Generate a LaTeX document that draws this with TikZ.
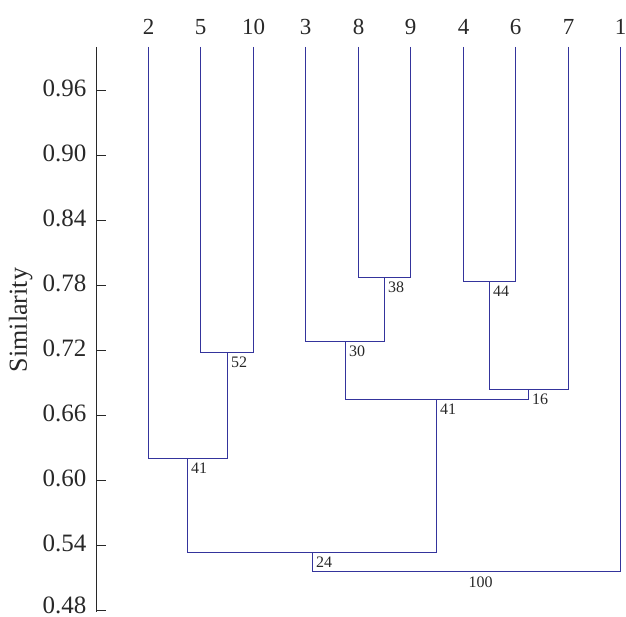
\documentclass[tikz,border=0pt]{standalone}
\usepackage{fontspec}
\setmainfont{Liberation Serif}
\definecolor{dend}{RGB}{52,52,156}
\definecolor{axisc}{RGB}{40,40,40}
\begin{document}
\begin{tikzpicture}[x=1pt,y=-1pt,
  link/.style={draw=dend,line width=1.6pt},
  axisline/.style={draw=axisc,line width=1.6pt},
  leaflab/.style={anchor=base,inner sep=0pt,font=\fontsize{23}{23}\selectfont,text=axisc},
  ticklab/.style={anchor=east,inner sep=0pt,font=\fontsize{25}{25}\selectfont,text=axisc},
  simlab/.style={anchor=north west,inner sep=0pt,font=\fontsize{16}{16}\selectfont,text=axisc}]
\useasboundingbox (0,0) rectangle (626,617);
% leaves
\foreach \n/\x in {2/148.5,5/200.5,10/253.5,3/305.5,8/358.5,9/410.5,4/463.5,6/515.5,7/568.5,1/620.5}{
  \coordinate (L\n) at (\x,47);
  \node[leaflab] (T\n) at (\x,35) {\n};
}
% merge points
\coordinate (m89) at (384.5,277.5);
\coordinate (m46) at (489.5,281.5);
\coordinate (m510) at (227.5,352.5);
\coordinate (m389) at (345.5,341.5);
\coordinate (m467) at (528.5,389.5);
\coordinate (m37) at (436.5,399.5);
\coordinate (m2510) at (187.5,458.5);
\coordinate (m24) at (312.5,552.5);
\coordinate (mroot) at (466.5,571.5);
% links
\draw[link] (L8) |- (m89);  \draw[link] (L9) |- (m89);
\draw[link] (L4) |- (m46);  \draw[link] (L6) |- (m46);
\draw[link] (L5) |- (m510); \draw[link] (L10) |- (m510);
\draw[link] (L3) |- (m389); \draw[link] (m89) |- (m389);
\draw[link] (m46) |- (m467); \draw[link] (L7) |- (m467);
\draw[link] (m389) |- (m37); \draw[link] (m467) |- (m37);
\draw[link] (L2) |- (m2510); \draw[link] (m510) |- (m2510);
\draw[link] (m2510) |- (m24); \draw[link] (m37) |- (m24);
\draw[link] (m24) |- (mroot); \draw[link] (L1) |- (mroot);
% similarity labels
\node[simlab] (s38) at ([shift={(3.5,4.5)}]m89) {38};
\node[simlab] (s44) at ([shift={(3.5,4.5)}]m46) {44};
\node[simlab] (s52) at ([shift={(3.5,4.5)}]m510) {52};
\node[simlab] (s30) at ([shift={(3.5,4.5)}]m389) {30};
\node[simlab] (s16) at ([shift={(3.5,4.5)}]m467) {16};
\node[simlab] (s41a) at ([shift={(3.5,4.5)}]m37) {41};
\node[simlab] (s41b) at ([shift={(3.5,4)}]m2510) {41};
\node[simlab] (s24) at ([shift={(3.5,4)}]m24) {24};
\node[simlab,anchor=north] (s100) at (480.5,577) {100};
% axis
\coordinate (atop) at (96.5,47);
\coordinate (abot) at (96.5,611.5);
\draw[axisline] (atop) -- (abot);
\foreach \v/\y/\dy [count=\k] in {0.96/90.5/2,0.90/155.5/2,0.84/220.5/2,0.78/285.5/2,0.72/350.5/2,0.66/415.5/2,0.60/480.5/2,0.54/545.5/2,0.48/610.5/5}{
  \coordinate (tk\k) at (96.5,\y);
  \draw[axisline] (tk\k) -- ++(9,0);
  \node[ticklab] (tl\k) at (86.5,\y-\dy) {\v};
}
\node[rotate=90,anchor=base,inner sep=0pt,font=\fontsize{26}{26}\selectfont,text=axisc] (ylab) at (27,320) {Similarity};
\end{tikzpicture}
\end{document}
